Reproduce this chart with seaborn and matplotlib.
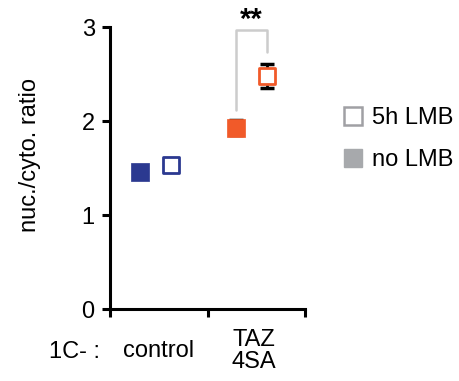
import matplotlib
matplotlib.use("Agg")
import matplotlib.pyplot as plt
import matplotlib.transforms as mtransforms
from matplotlib.lines import Line2D
import seaborn as sns
import pandas as pd

sns.set_style("ticks", rc={'text.color': 'black', 'axes.labelcolor': 'black',
                           'xtick.color': 'black', 'ytick.color': 'black',
                           'axes.edgecolor': 'black'})
plt.rcParams['font.family'] = ['Liberation Sans', 'DejaVu Sans']

# data
groups = ["control", "TAZ\n4SA"]
conditions = ["no LMB", "5h LMB"]
ratio_no_lmb = [1.46, 1.93]
ratio_lmb = [1.53, 2.48]
err_no_lmb = [0.0, 0.08]
err_lmb = [0.0, 0.13]
group_colors = ["#2b3990", "#f15a29"]
y_ticks = [0, 1, 2, 3]

centers = [0.47, 1.45]
offset = 0.16
FS = 17

rows = []
for i, g in enumerate(groups):
    rows.append(dict(group=g, cond="no LMB", x=centers[i] - offset,
                     ratio=ratio_no_lmb[i], err=err_no_lmb[i], color=group_colors[i]))
    rows.append(dict(group=g, cond="5h LMB", x=centers[i] + offset,
                     ratio=ratio_lmb[i], err=err_lmb[i], color=group_colors[i]))
df = pd.DataFrame(rows)

fig = plt.figure(figsize=(4.6, 3.81), dpi=100)
ax = fig.add_axes([110 / 460, 1 - 309 / 381, 195 / 460, 282 / 381])

# error bars first so markers sit on top
for _, r in df.iterrows():
    if r.err > 0:
        ax.errorbar(r.x, r.ratio, yerr=r.err, fmt='none', ecolor='black',
                    elinewidth=2, capsize=5, capthick=2.5, zorder=2)

for _, r in df.iterrows():
    sub = df[(df.group == r.group) & (df.cond == r.cond)]
    if r.cond == "no LMB":
        sns.scatterplot(data=sub, x='x', y='ratio', marker='s', s=150,
                        color=r.color, edgecolor=r.color, linewidth=0.5,
                        ax=ax, zorder=3, clip_on=False)
    else:
        sns.scatterplot(data=sub, x='x', y='ratio', marker='s', s=120,
                        facecolor='white', edgecolor=r.color, linewidth=2,
                        ax=ax, zorder=3, clip_on=False)

# significance bracket
x_l = centers[1] - offset
x_r = centers[1] + offset
ax.plot([x_l, x_l, x_r, x_r], [2.12, 2.97, 2.97, 2.73], color='#cccccc',
        lw=1.8, clip_on=False, zorder=1)
ax.text((x_l + x_r) / 2, 3.07, "**", ha='center', va='center', fontsize=21,
        fontweight='bold', clip_on=False)

ax.set_xlim(0, 2)
ax.set_ylim(0, 3)
ax.set_yticks(y_ticks)
ax.set_xticks([0, 1, 2])
ax.set_xticklabels([])
ax.tick_params(axis='both', width=2.2, length=6, labelsize=FS, direction='out')
ax.tick_params(axis='y', pad=5)
for s in ['left', 'bottom']:
    ax.spines[s].set_linewidth(2.2)
sns.despine(ax=ax)
ax.set_xlabel("")
ax.set_ylabel("nuc./cyto. ratio", fontsize=FS)
ax.yaxis.set_label_coords(-0.355, 0.545)

trans = mtransforms.blended_transform_factory(ax.transData, ax.transAxes)
for c, g in zip(centers, groups):
    ax.text(c + 0.03, -0.15, g, transform=trans, ha='center', va='center',
            fontsize=FS, linespacing=1.0)
fig.text(100 / 460, 1 - 352 / 381, "1C- :", ha='right', va='center', fontsize=FS)

handles = [
    Line2D([], [], marker='s', linestyle='none', markersize=13,
           markerfacecolor='white', markeredgecolor='#a0a0a4', markeredgewidth=1.8),
    Line2D([], [], marker='s', linestyle='none', markersize=13,
           markerfacecolor='#a7a9ac', markeredgecolor='#a7a9ac'),
]
fig.legend(handles, ["5h LMB", "no LMB"], loc='center left',
           bbox_to_anchor=(318 / 460, 1 - 139 / 381), frameon=False,
           fontsize=FS, handletextpad=0.2, labelspacing=0.85, handlelength=1.2)

fig.savefig("out.png", dpi=100)
